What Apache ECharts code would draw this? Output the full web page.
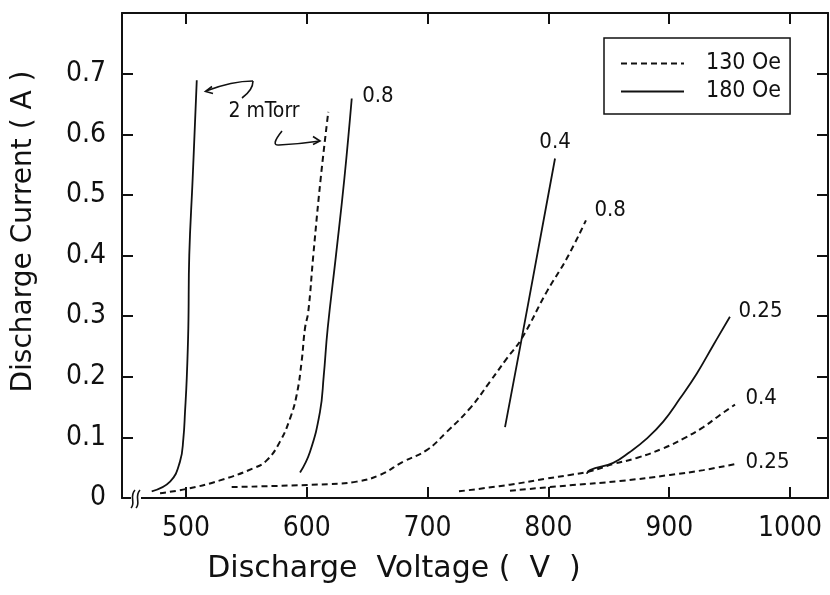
<!DOCTYPE html>
<html>
<head>
<meta charset="utf-8">
<script src="https://cdn.jsdelivr.net/npm/echarts@6/dist/echarts.min.js"></script>
<style>
  html, body { margin: 0; padding: 0; background: #fff; }
  #chart { width: 830px; height: 595px; }
</style>
</head>
<body>
<div id="chart"></div>
<script>
// discharge voltage (V) / current (A)
const volt180_2 = [471.6, 486.8, 495.0, 497.8, 499.2, 500.6, 501.9, 502.7, 505.5, 508.9];
const curr180_2 = [0.011, 0.027, 0.060, 0.098, 0.143, 0.197, 0.280, 0.401, 0.527, 0.689];

const volt130_2 = [478.5, 500.6, 528.1, 555.7, 566.8, 577.8, 586.1, 591.6, 595.7, 598.5, 601.2, 605.4, 611.5, 617.8];
const curr130_2 = [0.008, 0.015, 0.029, 0.049, 0.062, 0.093, 0.131, 0.170, 0.225, 0.280, 0.307, 0.401, 0.527, 0.637];

const volt180_08 = [594.4, 602.6, 610.9, 614.0, 617.3, 624.2, 631.1, 637.2];
const curr180_08 = [0.042, 0.076, 0.142, 0.201, 0.280, 0.401, 0.527, 0.659];

const volt130_08 = [537.8, 619.2, 641.3, 660.6, 679.9, 699.3, 715.8, 735.1, 751.7, 765.5, 777.9, 798.6, 815.2, 831.1];
const curr130_08 = [0.018, 0.023, 0.027, 0.038, 0.060, 0.079, 0.109, 0.148, 0.192, 0.230, 0.263, 0.340, 0.395, 0.458];

const volt180_04 = [764.1, 777.9, 805.5];
const curr180_04 = [0.117, 0.263, 0.560];

const volt130_04 = [726.0, 768.2, 798.5, 817.9, 834.4, 853.7, 873.1, 895.2, 911.8, 928.3, 942.1, 954.5];
const curr130_04 = [0.011, 0.022, 0.032, 0.038, 0.044, 0.056, 0.066, 0.082, 0.098, 0.117, 0.137, 0.154];

const volt180_025 = [831.7, 834.4, 853.7, 867.5, 881.4, 895.1, 908.9, 922.8, 936.5, 950.3];
const curr180_025 = [0.040, 0.046, 0.058, 0.076, 0.098, 0.126, 0.164, 0.205, 0.252, 0.299];

const volt130_025 = [768.2, 817.9, 859.3, 900.7, 928.3, 954.5];
const curr130_025 = [0.012, 0.021, 0.028, 0.038, 0.046, 0.056];

const xTicks = [500, 600, 700, 800, 900, 1000];
const yTicks = [0, 0.1, 0.2, 0.3, 0.4, 0.5, 0.6, 0.7];
const legendNames = ["130 Oe", "180 Oe"];

const ink = "#111";
const narrow = "'DejaVu Sans Condensed', 'Liberation Sans Narrow', 'DejaVu Sans', sans-serif";
const plain = "'DejaVu Sans', sans-serif";

function curve(name, volts, currs, dashed, label, pos, offset) {
  const s = {
    name,
    type: "line",
    data: volts.map((v, i) => [v, currs[i]]),
    showSymbol: false,
    symbol: "none",
    smooth: 0.45,
    lineStyle: { color: ink, width: dashed ? 2 : 1.8, type: dashed ? [6, 4] : "solid" },
    itemStyle: { color: ink },
    z: 3,
  };
  if (label) {
    s.markPoint = {
      symbol: "circle",
      symbolSize: 1,
      itemStyle: { color: "transparent" },
      label: {
        show: true,
        formatter: label,
        position: pos,
        distance: 8,
        offset,
        color: ink,
        fontSize: 22,
        fontFamily: narrow,
      },
      data: [{ coord: [volts[volts.length - 1], currs[currs.length - 1]] }],
    };
  }
  return s;
}

const chart = echarts.init(document.getElementById("chart"), null, { renderer: "canvas" });

const axisLine = { show: true, onZero: false, lineStyle: { color: ink, width: 2 } };
const tick = { show: true, inside: true, length: 11, lineStyle: { color: ink, width: 2 } };

chart.setOption({
  animation: false,
  backgroundColor: "#fff",
  grid: { left: 122, right: 2, top: 13, bottom: 97, containLabel: false, outerBoundsMode: "none" },
  legend: {
    data: legendNames,
    orient: "vertical",
    left: 604,
    top: 38,
    padding: [14, 9, 11, 16],
    itemWidth: 63,
    itemHeight: 14,
    itemGap: 5,
    borderColor: ink,
    borderWidth: 1.5,
    borderRadius: 0,
    selectedMode: false,
    itemStyle: { opacity: 0 },
    textStyle: { color: ink, fontSize: 23, fontFamily: narrow, padding: [0, 0, 0, 17] },
  },
  xAxis: [
    {
      type: "value",
      position: "bottom",
      min: 447,
      max: 1031.5,
      axisLine,
      axisTick: { ...tick, customValues: xTicks },
      axisLabel: {
        customValues: xTicks,
        color: ink,
        fontSize: 28,
        fontFamily: narrow,
        margin: 17,
        formatter: (v) => String(v),
      },
      splitLine: { show: false },
      name: "Discharge  Voltage (  V  )",
      nameLocation: "middle",
      nameGap: 56,
      nameTextStyle: { color: ink, fontSize: 30, fontFamily: plain, padding: [0, 162, 0, 0] },
    },
    {
      type: "value",
      position: "top",
      min: 447,
      max: 1031.5,
      axisLine,
      axisTick: { ...tick, customValues: xTicks },
      axisLabel: { show: false },
      splitLine: { show: false },
    },
  ],
  yAxis: [
    {
      type: "value",
      position: "left",
      min: 0,
      max: 0.8,
      interval: 0.1,
      axisLine,
      axisTick: tick,
      axisLabel: {
        customValues: yTicks,
        color: ink,
        fontSize: 28,
        fontFamily: narrow,
        margin: 16,
        formatter: (v) => (v === 0 ? "0" : v.toFixed(1)),
      },
      splitLine: { show: false },
      name: "Discharge Current ( A )",
      nameLocation: "middle",
      nameGap: 84,
      nameRotate: 90,
      nameTextStyle: { color: ink, fontSize: 28, fontFamily: plain, padding: [0, 0, 0, 48] },
    },
    {
      type: "value",
      position: "right",
      min: 0,
      max: 0.8,
      interval: 0.1,
      axisLine,
      axisTick: tick,
      axisLabel: { show: false },
      splitLine: { show: false },
    },
  ],
  series: [
    curve("130 Oe", volt130_2, curr130_2, true),
    curve("180 Oe", volt180_2, curr180_2, false),
    curve("180 Oe", volt180_08, curr180_08, false, "0.8", "right", [2, -2]),
    curve("130 Oe", volt130_08, curr130_08, true, "0.8", "right", [0, -10]),
    curve("180 Oe", volt180_04, curr180_04, false, "0.4", "top", [0, 3]),
    curve("130 Oe", volt130_04, curr130_04, true, "0.4", "right", [2, -6]),
    curve("180 Oe", volt180_025, curr180_025, false, "0.25", "right", [0, -5]),
    curve("130 Oe", volt130_025, curr130_025, true, "0.25", "right", [2, -2]),
  ],
  graphic: [
    // axis break marks at the bottom left
    { type: "rect", z: 100, shape: { x: 131, y: 495, width: 10, height: 6 }, style: { fill: "#fff" } },
    { type: "bezierCurve", z: 101, shape: { x1: 135, y1: 490, cpx1: 129, cpy1: 496, cpx2: 136, cpy2: 503, x2: 131, y2: 508 }, style: { stroke: ink, lineWidth: 1.6, fill: null } },
    { type: "bezierCurve", z: 101, shape: { x1: 140, y1: 490, cpx1: 134, cpy1: 496, cpx2: 141, cpy2: 503, x2: 136, y2: 508 }, style: { stroke: ink, lineWidth: 1.6, fill: null } },
    // 2 mTorr annotation with its two hand-drawn arrows
    { type: "text", z: 101, x: 264, y: 112, style: { text: "2 mTorr", fill: ink, font: "21px " + narrow, align: "center", verticalAlign: "middle" } },
    { type: "bezierCurve", z: 101, shape: { x1: 242, y1: 98, cpx1: 253, cpy1: 90, x2: 253, y2: 81 }, style: { stroke: ink, lineWidth: 1.6, fill: null } },
    { type: "bezierCurve", z: 101, shape: { x1: 253, y1: 81, cpx1: 232, cpy1: 81, x2: 206, y2: 91 }, style: { stroke: ink, lineWidth: 1.6, fill: null } },
    { type: "polyline", z: 101, shape: { points: [[212, 86.5], [205.5, 91.5], [213, 93.5]] }, style: { stroke: ink, lineWidth: 1.6, fill: null } },
    { type: "bezierCurve", z: 101, shape: { x1: 282, y1: 131, cpx1: 270, cpy1: 146, x2: 279, y2: 145 }, style: { stroke: ink, lineWidth: 1.6, fill: null } },
    { type: "bezierCurve", z: 101, shape: { x1: 279, y1: 145, cpx1: 300, cpy1: 144, x2: 320, y2: 141 }, style: { stroke: ink, lineWidth: 1.6, fill: null } },
    { type: "polyline", z: 101, shape: { points: [[313, 136.5], [320, 141], [313, 144.5]] }, style: { stroke: ink, lineWidth: 1.6, fill: null } },
  ],
});

window.addEventListener("resize", () => chart.resize());
</script>
</body>
</html>
